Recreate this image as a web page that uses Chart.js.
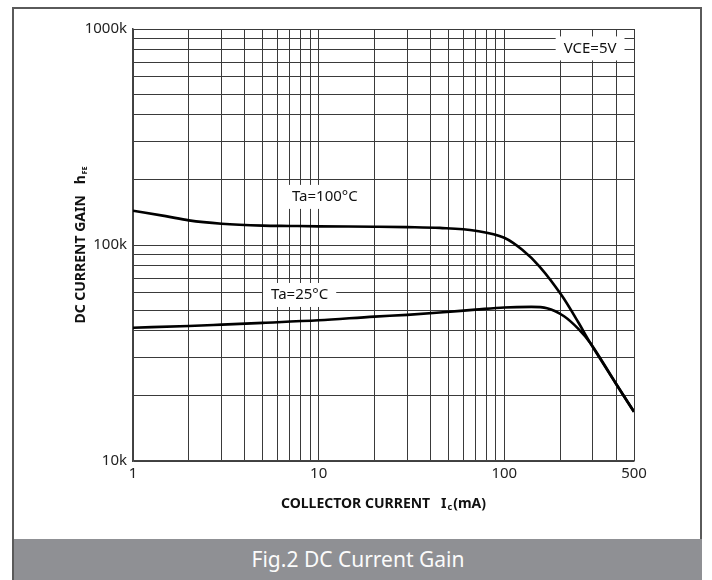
<!DOCTYPE html>
<html>
<head>
<meta charset="utf-8">
<script src="https://cdn.jsdelivr.net/npm/chart.js@4/dist/chart.umd.min.js"></script>
<style>
  html, body { margin: 0; padding: 0; background: #fff; }
  #page { position: relative; width: 712px; height: 580px; overflow: hidden; }
  #frame { position: absolute; left: 12px; top: 7px; width: 690px; height: 600px; border: 2px solid #5a5a5a; box-sizing: border-box; }
  #wrap { position: absolute; left: 0; top: 0; width: 712px; height: 539px; }
  #caption { position: absolute; left: 14px; top: 539px; width: 688px; height: 41px; background: #8f9094;
             color: #fbfbfb; font: 21px "Noto Sans", sans-serif; text-align: center; line-height: 41px; }
</style>
</head>
<body>
<div id="page">
  <div id="frame"></div>
  <div id="wrap"><canvas id="chart"></canvas></div>
  <div id="caption">Fig.2 DC Current Gain</div>
</div>
<script>
// values (collector current in mA, hFE)
const currentTa100 = [1, 1.5, 2, 3, 5, 7, 10, 20, 30, 45, 70, 100, 125, 155, 205, 250, 290, 400, 500];
const gainTa100 = [144000, 136000, 130000, 125500, 123000, 122500, 122000, 121500, 121000, 120000, 116500, 108000, 95000, 79500, 58000, 44000, 35300, 22800, 16900];

const currentTa25 = [1, 2, 3, 5, 10, 20, 30, 45, 70, 100, 140, 170, 210, 250, 290, 400, 500];
const gainTa25 = [41400, 42200, 42800, 43600, 44800, 46600, 47500, 48700, 50200, 51400, 51700, 51000, 46800, 41000, 35300, 22800, 16900];

const xTickLabels = [1, 10, 100, 500];
const yTickLabels = [10000, 100000, 1000000];

// grid positions: 1..9 in every decade
const xGrid = [1, 2, 3, 4, 5, 6, 7, 8, 9, 10, 20, 30, 40, 50, 60, 70, 80, 90, 100, 200, 300, 400, 500];
const yGrid = [];
for (let d = 10000; d < 1000000; d *= 10) {
  for (let k = 1; k < 10; k++) yGrid.push(d * k);
}
yGrid.push(1000000);

const notes = [
  { text: 'Ta=100°C', x: 10.8, y: 167000 },
  { text: 'Ta=25°C', x: 7.9, y: 58700 },
  { text: 'VCE=5V', x: 290, y: 813000 }
];

const pts = (xs, ys) => xs.map((x, i) => ({ x: x, y: ys[i] }));

const labelsPlugin = {
  id: 'labels',
  beforeDatasetsDraw(chart) {
    const ctx = chart.ctx;
    const xs = chart.scales.x, ys = chart.scales.y;
    ctx.save();
    ctx.font = '15px "Noto Sans"';
    ctx.textAlign = 'center';
    ctx.textBaseline = 'middle';
    notes.forEach(n => {
      const px = xs.getPixelForValue(n.x);
      const py = ys.getPixelForValue(n.y);
      const w = ctx.measureText(n.text).width + 16;
      ctx.fillStyle = '#fff';
      ctx.fillRect(px - w / 2, py - 12, w, 24);
      ctx.fillStyle = '#111';
      ctx.fillText(n.text, px, py);
    });
    ctx.restore();
  },
  afterDraw(chart) {
    const ctx = chart.ctx;
    const a = chart.chartArea;
    ctx.save();
    ctx.fillStyle = '#111';
    ctx.textBaseline = 'alphabetic';
    // x axis title with subscript
    const big = 'bold 14px "Noto Sans"', small = 'bold 9px "Noto Sans"';
    const p1 = 'COLLECTOR CURRENT   I', p2 = 'c', p3 = '(mA)';
    ctx.font = big; const w1 = ctx.measureText(p1).width, w3 = ctx.measureText(p3).width;
    ctx.font = small; const w2 = ctx.measureText(p2).width;
    let x0 = (a.left + a.right) / 2 - (w1 + w2 + w3 + 2) / 2;
    const by = 508;
    ctx.textAlign = 'left';
    ctx.font = big; ctx.fillText(p1, x0, by);
    ctx.font = small; ctx.fillText(p2, x0 + w1 + 1, by + 2);
    ctx.font = big; ctx.fillText(p3, x0 + w1 + w2 + 2, by);
    // y axis title, rotated
    const q1 = 'DC CURRENT GAIN   h', q2 = 'FE';
    const smallY = 'bold 7px "Noto Sans"';
    ctx.font = big; const v1 = ctx.measureText(q1).width;
    ctx.font = smallY; const v2 = ctx.measureText(q2).width;
    ctx.translate(85, (a.top + a.bottom) / 2);
    ctx.rotate(-Math.PI / 2);
    const s0 = -(v1 + v2 + 1) / 2;
    ctx.font = big; ctx.fillText(q1, s0, 0);
    ctx.font = smallY; ctx.fillText(q2, s0 + v1 + 1, 2);
    ctx.restore();
  }
};

new Chart(document.getElementById('chart'), {
  type: 'scatter',
  data: {
    datasets: [
      { label: 'Ta=100°C', data: pts(currentTa100, gainTa100) },
      { label: 'Ta=25°C', data: pts(currentTa25, gainTa25) }
    ]
  },
  options: {
    responsive: true,
    maintainAspectRatio: false,
    animation: false,
    showLine: true,
    layout: { padding: { left: 0, right: 78, top: 29, bottom: 0 } },
    elements: {
      point: { radius: 0, hoverRadius: 0 },
      line: { borderColor: '#000', borderWidth: 2.6, cubicInterpolationMode: 'monotone', fill: false }
    },
    plugins: { legend: { display: false }, tooltip: { enabled: false } },
    scales: {
      x: {
        type: 'logarithmic',
        min: 1, max: 500,
        afterBuildTicks: (s) => { s.ticks = xGrid.map(v => ({ value: v })); },
        afterFit: (s) => { s.height = 78; },
        grid: { color: '#3a3a3a', lineWidth: 1, drawTicks: false },
        border: { color: '#444', width: 1.5 },
        ticks: {
          autoSkip: false, maxRotation: 0, padding: 4,
          color: '#222', font: { family: 'Noto Sans', size: 15 },
          callback: (v) => xTickLabels.includes(v) ? String(v) : ''
        }
      },
      y: {
        type: 'logarithmic',
        min: 10000, max: 1000000,
        afterBuildTicks: (s) => { s.ticks = yGrid.map(v => ({ value: v })); },
        afterFit: (s) => { s.width = 133; },
        grid: { color: '#3a3a3a', lineWidth: 1, drawTicks: false },
        border: { color: '#444', width: 1.5 },
        ticks: {
          autoSkip: false, padding: 6,
          color: '#222', font: { family: 'Noto Sans', size: 15 },
          callback: (v) => yTickLabels.includes(v) ? (v / 1000) + 'k' : ''
        }
      }
    }
  },
  plugins: [labelsPlugin]
});
</script>
</body>
</html>
